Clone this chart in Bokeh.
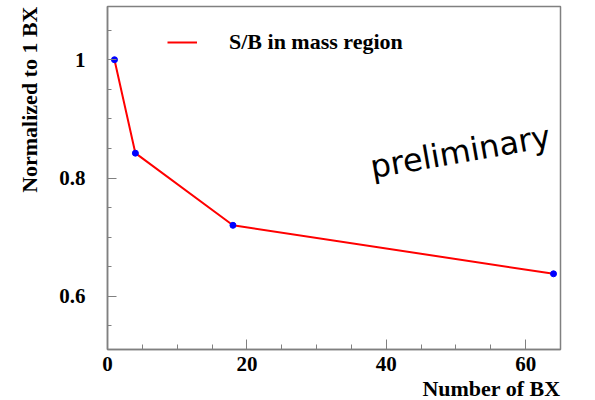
from bokeh.plotting import figure
from bokeh.models import Range1d, FixedTicker, Label, Legend, LegendItem, Title
from bokeh.embed import file_html
from bokeh.resources import INLINE

# data
n_bx = [1, 4, 18, 64]
sb_norm = [1.0, 0.842, 0.720, 0.638]

x_ticks = [0, 20, 40, 60]
x_minor = [0, 5, 10, 15, 20, 25, 30, 35, 40, 45, 50, 55, 60, 65]
y_ticks = [0.6, 0.8, 1.0]
y_minor = [0.55, 0.6, 0.65, 0.7, 0.75, 0.8, 0.85, 0.9, 0.95, 1.0, 1.05]
y_tick_labels = {0.6: "0.6", 0.8: "0.8", 1.0: "1"}

legend_label = "S/B in mass region"
x_title = "Number of BX"
y_title = "Normalized to 1 BX"
watermark = "preliminary"

SERIF = "Liberation Serif"
GRAY = "#808080"

p = figure(width=595, height=400, output_backend="svg", toolbar_location=None,
           x_range=Range1d(0, 65), y_range=Range1d(0.51, 1.09),
           min_border_left=107, min_border_right=35, min_border_top=6,
           min_border_bottom=51, background_fill_color="white",
           border_fill_color="white")

p.xgrid.visible = False
p.ygrid.visible = False
p.outline_line_color = GRAY
p.outline_line_width = 1.5

p.xaxis.ticker = FixedTicker(ticks=x_ticks, minor_ticks=x_minor)
p.yaxis.ticker = FixedTicker(ticks=y_ticks, minor_ticks=y_minor)
p.yaxis.major_label_overrides = y_tick_labels

for ax in (p.xaxis[0], p.yaxis[0]):
    ax.axis_line_color = GRAY
    ax.axis_line_width = 1.5
    ax.major_tick_line_color = GRAY
    ax.minor_tick_line_color = GRAY
    ax.major_tick_out = 0
    ax.minor_tick_out = 0
    ax.major_label_text_font = SERIF
    ax.major_label_text_font_style = "bold"
    ax.major_label_text_font_size = "21px"
    ax.major_label_text_color = "black"

p.xaxis.major_tick_in = 10
p.xaxis.minor_tick_in = 5
p.yaxis.major_tick_in = 9
p.yaxis.minor_tick_in = 4
p.xaxis.major_label_standoff = 7
p.yaxis.major_label_standoff = 22

r_line = p.line(n_bx, sb_norm, line_color="red", line_width=2)
p.scatter(n_bx, sb_norm, size=6, fill_color="blue", line_color="blue")

legend = Legend(items=[LegendItem(label=legend_label, renderers=[r_line])],
                location=(60, 294), border_line_color=None,
                background_fill_alpha=0, padding=0, margin=0,
                glyph_width=30, glyph_height=22, label_height=22,
                label_standoff=32, label_text_font=SERIF,
                label_text_font_style="bold", label_text_font_size="22px",
                label_text_color="black")
p.add_layout(legend)

p.add_layout(Title(text=y_title, align="right", text_font=SERIF,
                   text_font_style="bold", text_font_size="22px",
                   text_color="black", standoff=26, vertical_align="top"),
             "left")
p.add_layout(Title(text=x_title, align="right", text_font=SERIF,
                   text_font_style="bold", text_font_size="22px",
                   text_color="black", standoff=0), "below")

p.add_layout(Label(x=263, y=182, x_units="screen", y_units="screen",
                   text=watermark, angle=10, angle_units="deg",
                   text_align="left", text_baseline="alphabetic",
                   text_font="DejaVu Sans", text_font_size="32px",
                   text_color="black"))

open("out.html", "w").write(file_html(p, INLINE))
